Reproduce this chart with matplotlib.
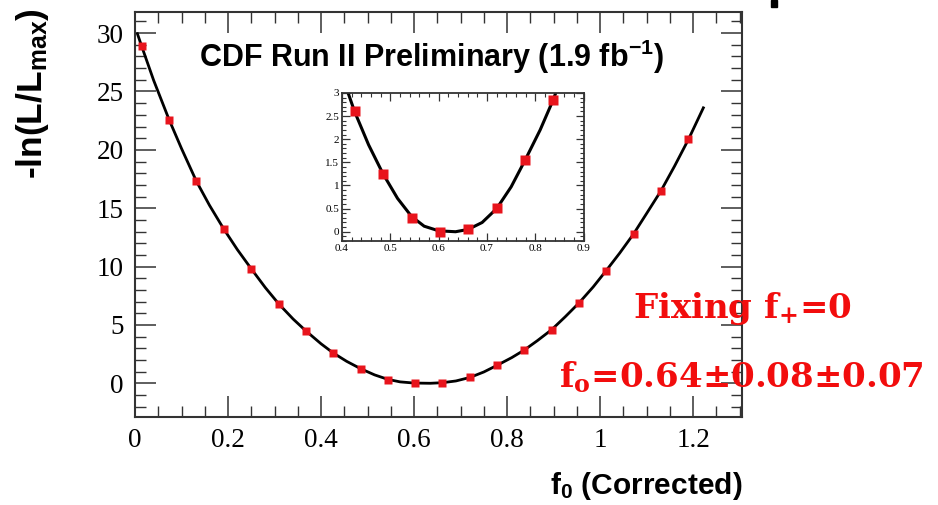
import matplotlib
matplotlib.use("Agg")
import matplotlib.pyplot as plt
from matplotlib.ticker import MultipleLocator
from matplotlib.patches import Rectangle

plt.rcParams['mathtext.fontset'] = 'custom'
plt.rcParams['mathtext.rm'] = 'Liberation Sans:bold'
plt.rcParams['mathtext.bf'] = 'Liberation Sans:bold'
plt.rcParams['mathtext.it'] = 'Liberation Sans:bold'

# scan points (f0, -lnL)
f0_pts = [0.014, 0.073, 0.132, 0.191, 0.250, 0.309, 0.367, 0.426, 0.485, 0.544, 0.602,
          0.661, 0.720, 0.779, 0.837, 0.896, 0.955, 1.013, 1.072, 1.131, 1.190]
nll_pts = [28.9, 22.6, 17.3, 13.2, 9.8, 6.8, 4.5, 2.6, 1.25, 0.30, 0.0,
           0.05, 0.52, 1.55, 2.85, 4.6, 6.9, 9.65, 12.8, 16.5, 20.9]

# fitted curve
f0_fit = [0.005, 0.014, 0.040, 0.073, 0.100, 0.132, 0.160, 0.191, 0.220, 0.250, 0.280,
          0.309, 0.340, 0.367, 0.400, 0.426, 0.455, 0.485, 0.515, 0.544, 0.570, 0.600,
          0.635, 0.661, 0.690, 0.720, 0.750, 0.779, 0.810, 0.837, 0.865, 0.896, 0.925,
          0.955, 0.985, 1.013, 1.042, 1.072, 1.100, 1.131, 1.160, 1.190, 1.222]
nll_fit = [29.95, 28.9, 25.95, 22.6, 20.1, 17.3, 15.25, 13.2, 11.45, 9.8, 8.2,
           6.8, 5.5, 4.5, 3.38, 2.6, 1.88, 1.25, 0.72, 0.33, 0.12, 0.02,
           0.0, 0.05, 0.2, 0.5, 0.97, 1.55, 2.2, 2.85, 3.65, 4.6, 5.7,
           6.9, 8.25, 9.65, 11.15, 12.8, 14.55, 16.5, 18.6, 20.9, 23.6]

red = '#e8141c'
txt_red = '#f20d0d'
spine_col = '#333333'

fig = plt.figure(figsize=(9.38, 5.05), dpi=100)
ax = fig.add_axes([0.144, 0.174, 0.647, 0.802])

ax.plot(f0_fit, nll_fit, color='black', lw=2.0, zorder=2)
ax.plot(f0_pts, nll_pts, 's', color=red, ms=6, mec='none', zorder=3)

ax.set_xlim(0, 1.305)
ax.set_ylim(-2.9, 31.8)
ax.xaxis.set_major_locator(MultipleLocator(0.2))
ax.xaxis.set_minor_locator(MultipleLocator(0.05))
ax.yaxis.set_major_locator(MultipleLocator(5))
ax.yaxis.set_minor_locator(MultipleLocator(1))
ax.set_xticks([0, 0.2, 0.4, 0.6, 0.8, 1.0, 1.2])
ax.set_xticklabels(['0', '0.2', '0.4', '0.6', '0.8', '1', '1.2'])
ax.tick_params(which='both', direction='in', top=True, right=True, color=spine_col,
               labelsize=19.5, pad=8)
ax.tick_params(which='major', length=15, width=1.1)
ax.tick_params(which='minor', length=8, width=1.0)
for lab in ax.get_xticklabels() + ax.get_yticklabels():
    lab.set_fontfamily('Liberation Serif')
for sp in ax.spines.values():
    sp.set_color(spine_col)
    sp.set_linewidth(1.5)

ax.set_xlabel(r'f$_0$ (Corrected)', fontsize=21.5, fontweight='bold',
              fontfamily='Liberation Sans', loc='right')
ax.xaxis.set_label_coords(1.0, -0.13)
ax.set_ylabel(r'-ln(L/L$_{\mathrm{max}}$)', fontsize=25.5, fontweight='bold',
              fontfamily='Liberation Sans', loc='top')
ax.yaxis.set_label_coords(-0.138, 1.01)

ax.text(0.488, 0.889, r'CDF Run II Preliminary (1.9 fb$^{\mathrm{-1}}$)',
        transform=ax.transAxes, ha='center', va='center', fontsize=22,
        fontweight='bold', fontfamily='Liberation Sans')

# inset zoom around the minimum
ins = fig.add_axes([0.3646, 0.5228, 0.2576, 0.2931])
ins.plot(f0_fit, nll_fit, color='black', lw=2.2, zorder=2)
ins.plot(f0_pts, nll_pts, 's', color=red, ms=7, mec='none', zorder=3)
ins.set_xlim(0.4, 0.9)
ins.set_ylim(-0.2, 3.0)
ins.xaxis.set_major_locator(MultipleLocator(0.1))
ins.xaxis.set_minor_locator(MultipleLocator(0.02))
ins.yaxis.set_major_locator(MultipleLocator(0.5))
ins.yaxis.set_minor_locator(MultipleLocator(0.1))
ins.set_xticks([0.4, 0.5, 0.6, 0.7, 0.8, 0.9])
ins.set_xticklabels(['0.4', '0.5', '0.6', '0.7', '0.8', '0.9'])
ins.set_yticks([0, 0.5, 1, 1.5, 2, 2.5, 3])
ins.set_yticklabels(['0', '0.5', '1', '1.5', '2', '2.5', '3'])
ins.tick_params(which='both', direction='in', top=True, right=True, color=spine_col,
                labelsize=8, pad=2)
ins.tick_params(which='major', length=6, width=0.9)
ins.tick_params(which='minor', length=3, width=0.8)
for lab in ins.get_xticklabels() + ins.get_yticklabels():
    lab.set_fontfamily('Liberation Serif')
for sp in ins.spines.values():
    sp.set_color(spine_col)
    sp.set_linewidth(1.3)

# red annotation
fig.text(0.792, 0.370, r'Fixing $\mathbf{f_{+}}$=0', color=txt_red, fontsize=24.5,
         fontweight='bold', fontfamily='DejaVu Serif', math_fontfamily='dejavuserif',
         ha='center', va='baseline')
fig.text(0.790, 0.232, r'$\mathbf{f_{o}}$=0.64±0.08±0.07', color=txt_red, fontsize=24.5,
         fontweight='bold', fontfamily='DejaVu Serif', math_fontfamily='dejavuserif',
         ha='center', va='baseline')

# cut-off slide title fragment at the top edge
fig.patches.append(Rectangle((771 / 938, 1 - 7 / 505), 6 / 938, 7 / 505,
                             transform=fig.transFigure, color='black', zorder=5))

fig.savefig('out.png', dpi=100)
